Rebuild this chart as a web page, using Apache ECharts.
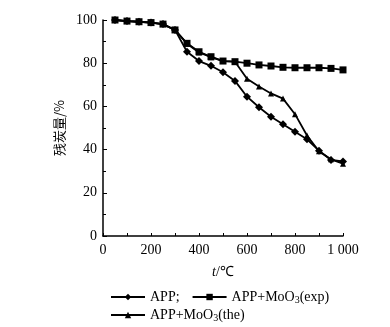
<!DOCTYPE html>
<html>
<head>
<meta charset="utf-8">
<script src="https://cdn.jsdelivr.net/npm/echarts@6/dist/echarts.min.js"></script>
<style>
  html, body { margin: 0; padding: 0; background: #fff; }
  #chart { width: 390px; height: 327px; }
</style>
</head>
<body>
<div id="chart"></div>
<script>
// Temperature (°C) at each sample
const temps = [50, 100, 150, 200, 250, 300, 350, 400, 450, 500, 550, 600, 650, 700, 750, 800, 850, 900, 950, 1000];
// Residual char (%) for each formulation
const appValues = [100, 99.5, 99.2, 98.8, 98.1, 95.4, 85.3, 81.0, 78.8, 75.8, 71.8, 64.5, 59.6, 55.2, 51.7, 48.3, 44.8, 39.5, 35.2, 34.5];
const expValues = [100, 99.5, 99.2, 98.8, 98.1, 95.4, 89.2, 85.3, 83.0, 81.0, 80.7, 80.0, 79.2, 78.7, 78.1, 77.9, 77.9, 77.9, 77.6, 76.9];
const theValues = [100, 99.5, 99.2, 98.8, 98.1, 95.4, 89.0, 85.0, 82.8, 81.0, 80.7, 72.8, 69.2, 66.0, 63.6, 56.4, 46.5, 39.2, 35.5, 33.5];
// Axis tick labels
const xTickLabels = { 0: '0', 200: '200', 400: '400', 600: '600', 800: '800', 1000: '1 000' };
const yTicks = [0, 20, 40, 60, 80, 100];

const seriesNames = ['APP', 'APP+MoO3(exp)', 'APP+MoO3(the)'];

const SERIF = '"Liberation Serif", "Times New Roman", serif';
const pairs = vals => temps.map((t, i) => [t, vals[i]]);

const chart = echarts.init(document.getElementById('chart'), null, { renderer: 'canvas' });

const legendText = {
  fontFamily: SERIF,
  fontSize: 14,
  color: '#000',
  rich: {
    sub: { fontFamily: SERIF, fontSize: 10, color: '#000', padding: [7, 0, 0, 0] }
  }
};
const legendFormatter = name => name === 'APP' ? 'APP;' : name.replace('MoO3', 'MoO{sub|3}');

const lineBase = {
  type: 'line',
  color: '#000',
  lineStyle: { color: '#000', width: 1.8 },
  itemStyle: { color: '#000' },
  animation: false
};

chart.setOption({
  backgroundColor: '#fff',
  animation: false,
  grid: { left: 103, right: 47, top: 20, bottom: 91 },
  legend: [
    {
      data: [seriesNames[0], seriesNames[1]],
      left: 105, top: 285,
      itemWidth: 34, itemHeight: 8, itemGap: 12,
      textStyle: legendText,
      formatter: legendFormatter
    },
    {
      data: [seriesNames[2]],
      left: 105, top: 303,
      itemWidth: 34, itemHeight: 8,
      textStyle: legendText,
      formatter: legendFormatter
    }
  ],
  xAxis: {
    type: 'value',
    min: 0, max: 1000, interval: 200,
    name: '{i|t}/℃',
    nameLocation: 'middle',
    nameGap: 29,
    nameTextStyle: {
      fontFamily: SERIF, fontSize: 14, color: '#000',
      rich: { i: { fontFamily: SERIF, fontStyle: 'italic', fontSize: 14, color: '#000' } }
    },
    axisLine: { lineStyle: { color: '#000', width: 1.5 } },
    axisTick: { inside: true, length: 3, lineStyle: { color: '#000' } },
    minorTick: { show: true, splitNumber: 2, length: 3, lineStyle: { color: '#000' } },
    splitLine: { show: false },
    axisLabel: {
      fontFamily: SERIF, fontSize: 14, color: '#000', margin: 7,
      formatter: v => xTickLabels[v] !== undefined ? xTickLabels[v] : ''
    }
  },
  yAxis: {
    type: 'value',
    min: 0, max: 100, interval: 20,
    name: '残炭量/%',
    nameLocation: 'middle',
    nameGap: 36,
    nameRotate: 90,
    nameTextStyle: { fontFamily: '"Noto Sans CJK SC", sans-serif', fontSize: 13, color: '#000' },
    axisLine: { show: true, lineStyle: { color: '#000', width: 1.5 } },
    axisTick: { show: true, inside: true, length: 4, lineStyle: { color: '#000' } },
    minorTick: { show: true, splitNumber: 2, length: 3, lineStyle: { color: '#000' } },
    splitLine: { show: false },
    axisLabel: {
      fontFamily: SERIF, fontSize: 14, color: '#000', margin: 6,
      formatter: v => yTicks.includes(v) ? String(v) : ''
    }
  },
  series: [
    Object.assign({}, lineBase, {
      name: seriesNames[2],
      data: pairs(theValues),
      symbol: 'triangle', symbolSize: 6, z: 2
    }),
    Object.assign({}, lineBase, {
      name: seriesNames[0],
      data: pairs(appValues),
      symbol: 'diamond', symbolSize: 8, z: 3
    }),
    Object.assign({}, lineBase, {
      name: seriesNames[1],
      data: pairs(expValues),
      symbol: 'rect', symbolSize: 7, z: 4
    })
  ]
});
</script>
</body>
</html>
